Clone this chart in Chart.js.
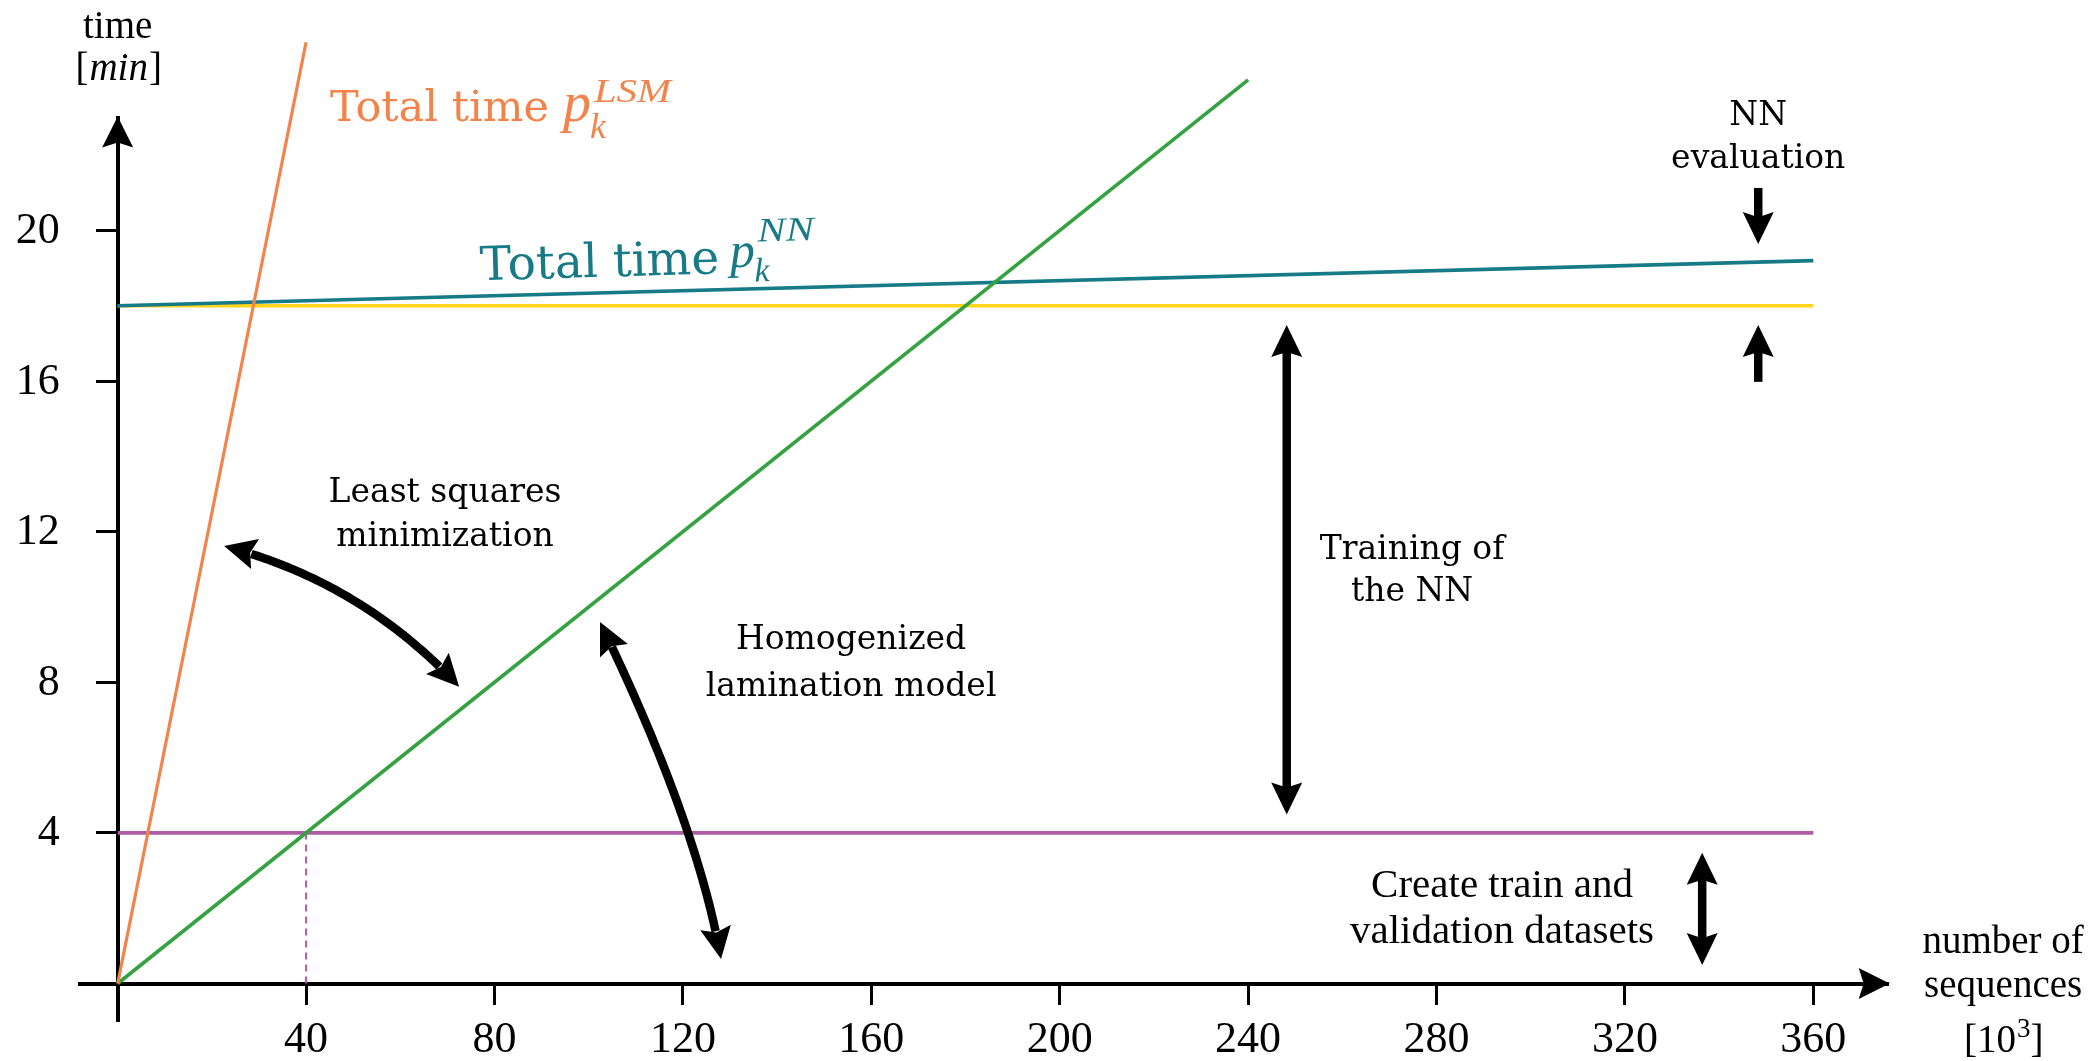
<!DOCTYPE html>
<html>
<head>
<meta charset="utf-8">
<script src="https://cdn.jsdelivr.net/npm/chart.js@4/dist/chart.umd.min.js"></script>
<style>
  html, body { margin: 0; padding: 0; background: #fff; }
  #wrap { width: 2094px; height: 1061px; }
</style>
</head>
<body>
<div id="wrap"><canvas id="c" width="2094" height="1061"></canvas></div>
<script>
// Computation time [min] against number of sequences [10^3]
const xTicks = [40, 80, 120, 160, 200, 240, 280, 320, 360];
const yTicks = [4, 8, 12, 16, 20];

// Total time with least squares minimization, p_k^LSM
const lsmX = [0, 40];
const lsmY = [0, 25];
// Homogenized lamination model
const homX = [0, 240];
const homY = [0, 24];
// Total time with the neural network, p_k^NN
const nnX = [0, 360];
const nnY = [18, 19.2];
// Dataset creation + training of the NN
const trainX = [0, 360];
const trainY = [18, 18];
// Create train and validation datasets
const dataX = [0, 360];
const dataY = [4, 4];
// Break-even marker between dataset creation and the lamination model
const markX = [40, 40];
const markY = [0, 4];

const pts = (xs, ys) => xs.map((v, i) => ({ x: v, y: ys[i] }));

const C_LSM = '#F2844B';
const C_HOM = '#35A242';
const C_NN = '#167B86';
const C_TRAIN = '#FDD31C';
const C_DATA = '#AE5CA6';

const SLAB = '"DejaVu Serif"';
const ROMAN = '"Liberation Serif"';

// annotation geometry in data units (x: 10^3 sequences, y: minutes)
const arrowsStraight = [
  { x0: 248.2, y0: 17.49, x1: 248.2, y1: 4.49, heads: [true, true] },
  { x0: 336.4, y0: 3.47, x1: 336.4, y1: 0.49, heads: [true, true] },
  { x0: 348.3, y0: 21.13, x1: 348.3, y1: 19.64, heads: [false, true] },
  { x0: 348.3, y0: 15.98, x1: 348.3, y1: 17.49, heads: [false, true] }
];
const arrowsCurved = [
  { p0: [22.6, 11.62], c: [51.9, 10.66], p2: [72.5, 7.88] },
  { p0: [102.4, 9.60], c: [123.1, 4.25], p2: [128.1, 0.65] }
];
const notes = [
  { lines: ['Least squares', 'minimization'], x: 69.5, y: [13.02, 11.86], font: SLAB, size: 33 },
  { lines: ['Training of', 'the NN'], x: 274.8, y: [11.51, 10.40], font: SLAB, size: 33 },
  { lines: ['Homogenized', 'lamination model'], x: 155.7, y: [9.10, 7.87], font: SLAB, size: 33 },
  { lines: ['NN', 'evaluation'], x: 348.3, y: [23.03, 21.88], font: SLAB, size: 33 },
  { lines: ['Create train and', 'validation datasets'], x: 293.9, y: [2.58, 1.37], font: ROMAN, size: 41 }
];

function arrowHead(ctx, tx, ty, ang, len, wid) {
  ctx.save();
  ctx.translate(tx, ty);
  ctx.rotate(ang);
  ctx.beginPath();
  ctx.moveTo(0, 0);
  ctx.lineTo(-len, -wid / 2);
  ctx.lineTo(-len * 0.84, 0);
  ctx.lineTo(-len, wid / 2);
  ctx.closePath();
  ctx.fill();
  ctx.restore();
}

function qPoint(p0, c, p2, t) {
  const u = 1 - t;
  return [u * u * p0[0] + 2 * u * t * c[0] + t * t * p2[0],
          u * u * p0[1] + 2 * u * t * c[1] + t * t * p2[1]];
}

const overlay = {
  id: 'overlay',
  afterDraw(chart) {
    const { ctx, scales: { x, y }, chartArea } = chart;
    const X = v => x.getPixelForValue(v);
    const Y = v => y.getPixelForValue(v);
    ctx.save();
    ctx.fillStyle = '#000';
    ctx.strokeStyle = '#000';

    // axis arrow tips
    arrowHead(ctx, chartArea.right + 1, Y(0), 0, 31, 31);
    arrowHead(ctx, X(0), chartArea.top - 1, -Math.PI / 2, 31, 31);

    // y tick labels, right-aligned left of the tick marks
    ctx.font = `44px ${ROMAN}`;
    ctx.textAlign = 'right';
    ctx.textBaseline = 'middle';
    y.ticks.forEach(t => ctx.fillText(String(t.value), X(0) - 58, y.getPixelForValue(t.value) + 1));

    // straight arrows
    const HL = 32, HW = 31, SW = 8.5;
    arrowsStraight.forEach(a => {
      const ax = X(a.x0), ay = Y(a.y0), bx = X(a.x1), by = Y(a.y1);
      const ang = Math.atan2(by - ay, bx - ax);
      const dx = Math.cos(ang), dy = Math.sin(ang);
      const s0 = a.heads[0] ? HL * 0.8 : 0;
      const s1 = a.heads[1] ? HL * 0.8 : 0;
      ctx.lineWidth = SW;
      ctx.lineCap = 'butt';
      ctx.beginPath();
      ctx.moveTo(ax + dx * s0, ay + dy * s0);
      ctx.lineTo(bx - dx * s1, by - dy * s1);
      ctx.stroke();
      if (a.heads[0]) arrowHead(ctx, ax, ay, ang + Math.PI, HL, HW);
      if (a.heads[1]) arrowHead(ctx, bx, by, ang, HL, HW);
    });

    // curved double arrows
    arrowsCurved.forEach(a => {
      const p0 = [X(a.p0[0]), Y(a.p0[1])];
      const c = [X(a.c[0]), Y(a.c[1])];
      const p2 = [X(a.p2[0]), Y(a.p2[1])];
      const N = 80;
      const samples = [];
      for (let i = 0; i <= N; i++) samples.push(qPoint(p0, c, p2, i / N));
      let total = 0;
      const acc = [0];
      for (let i = 1; i <= N; i++) {
        total += Math.hypot(samples[i][0] - samples[i - 1][0], samples[i][1] - samples[i - 1][1]);
        acc.push(total);
      }
      const trim = HL * 0.8;
      ctx.lineWidth = SW;
      ctx.beginPath();
      let started = false;
      for (let i = 0; i <= N; i++) {
        if (acc[i] < trim || acc[i] > total - trim) continue;
        if (!started) { ctx.moveTo(samples[i][0], samples[i][1]); started = true; }
        else ctx.lineTo(samples[i][0], samples[i][1]);
      }
      ctx.stroke();
      arrowHead(ctx, p0[0], p0[1], Math.atan2(p0[1] - c[1], p0[0] - c[0]), HL, HW);
      arrowHead(ctx, p2[0], p2[1], Math.atan2(p2[1] - c[1], p2[0] - c[0]), HL, HW);
    });

    // annotation texts
    ctx.textAlign = 'center';
    ctx.textBaseline = 'middle';
    notes.forEach(n => {
      ctx.font = `${n.size}px ${n.font}`;
      n.lines.forEach((t, i) => ctx.fillText(t, X(n.x), Y(n.y[i])));
    });

    // axis titles
    ctx.font = `39px ${ROMAN}`;
    ctx.fillText('time', X(0), Y(25.38));
    ctx.fillText('number of', X(400.3), Y(1.08));
    ctx.fillText('sequences', X(400.3), Y(-0.09));
    // [min]
    (function () {
      const cx = X(0), cy = Y(24.26);
      ctx.font = `39px ${ROMAN}`;
      const wb = ctx.measureText('[').width;
      ctx.font = `italic 39px ${ROMAN}`;
      const wm = ctx.measureText('min').width;
      const left = cx - (wb * 2 + wm) / 2;
      ctx.textAlign = 'left';
      ctx.font = `39px ${ROMAN}`;
      ctx.fillText('[', left, cy);
      ctx.fillText(']', left + wb + wm + 2, cy);
      ctx.font = `italic 39px ${ROMAN}`;
      ctx.fillText('min', left + wb + 1, cy);
    })();
    // [10^3]
    (function () {
      const cx = X(400.3), cy = Y(-1.55);
      ctx.font = `39px ${ROMAN}`;
      const w1 = ctx.measureText('[10').width;
      ctx.font = `27px ${ROMAN}`;
      const w2 = ctx.measureText('3').width;
      ctx.font = `39px ${ROMAN}`;
      const w3 = ctx.measureText(']').width;
      const left = cx - (w1 + w2 + w3) / 2;
      ctx.textAlign = 'left';
      ctx.fillText('[10', left, cy);
      ctx.fillText(']', left + w1 + w2 + 1, cy);
      ctx.font = `27px ${ROMAN}`;
      ctx.fillText('3', left + w1 + 1, cy - 12);
    })();

    // curve labels: "Total time p_k^{...}"
    function totalLabel(o) {
      ctx.save();
      ctx.translate(X(o.x), Y(o.y));
      ctx.rotate(o.ang);
      ctx.fillStyle = o.color;
      ctx.textAlign = 'left';
      ctx.textBaseline = 'alphabetic';
      ctx.font = `${o.size}px ${SLAB}`;
      ctx.fillText('Total time', 0, 0);
      let w = ctx.measureText('Total time').width + o.gap;
      ctx.font = `italic ${o.pSize}px ${ROMAN}`;
      ctx.fillText('p', w, o.pLift);
      w += ctx.measureText('p').width;
      ctx.font = `italic ${o.kSize}px ${ROMAN}`;
      ctx.fillText('k', w - 1, o.pLift + o.subDrop);
      ctx.save();
      ctx.translate(w + 3, o.pLift - o.supRise);
      ctx.scale(o.supStretch, 1);
      ctx.font = `italic ${o.supSize}px ${ROMAN}`;
      ctx.fillText(o.sup, 0, 0);
      ctx.restore();
      ctx.restore();
    }
    totalLabel({ x: 45.1, y: 22.91, ang: 0, color: C_LSM, size: 43, gap: 14, pSize: 56, pLift: 0,
      kSize: 36, subDrop: 17, sup: 'LSM', supSize: 34, supStretch: 1.2, supRise: 19 });
    totalLabel({ x: 77.0, y: 18.68, ang: -0.028, color: C_NN, size: 47, gap: 11, pSize: 50, pLift: -6,
      kSize: 34, subDrop: 15, sup: 'NN', supSize: 34, supStretch: 1.25, supRise: 25 });

    ctx.restore();
  }
};

const noPad = s => { s.paddingTop = 0; s.paddingBottom = 0; s.paddingLeft = 0; s.paddingRight = 0; };

new Chart(document.getElementById('c'), {
  type: 'line',
  data: {
    datasets: [
      { data: pts(lsmX, lsmY), borderColor: C_LSM, borderWidth: 3.2 },
      { data: pts(homX, homY), borderColor: C_HOM, borderWidth: 3.6 },
      { data: pts(nnX, nnY), borderColor: C_NN, borderWidth: 3.6 },
      { data: pts(trainX, trainY), borderColor: C_TRAIN, borderWidth: 3.6 },
      { data: pts(markX, markY), borderColor: C_DATA, borderWidth: 2, borderDash: [7, 5] },
      { data: pts(dataX, dataY), borderColor: C_DATA, borderWidth: 3.6 }
    ].map(d => Object.assign(d, { pointRadius: 0, fill: false, tension: 0, clip: false }))
  },
  options: {
    responsive: false,
    devicePixelRatio: 1,
    animation: false,
    events: [],
    layout: { padding: { left: 80, right: 205.3, top: 117.55, bottom: 39.85 } },
    plugins: { legend: { display: false }, tooltip: { enabled: false } },
    scales: {
      x: {
        type: 'linear',
        min: -8,
        max: 376,
        position: { y: 0 },
        border: { display: true, color: '#000', width: 4 },
        grid: { display: true, drawOnChartArea: false, drawTicks: true, tickLength: 19, tickWidth: 3, tickColor: '#000' },
        ticks: { color: '#000', font: { family: 'Liberation Serif', size: 44 }, padding: 12, maxRotation: 0 },
        afterBuildTicks: s => { s.ticks = xTicks.map(v => ({ value: v })); },
        afterFit: noPad
      },
      y: {
        type: 'linear',
        min: -1,
        max: 23,
        position: { x: 0 },
        border: { display: true, color: '#000', width: 4 },
        grid: { display: true, drawOnChartArea: false, drawTicks: true, tickLength: 20, tickWidth: 3, tickColor: '#000' },
        ticks: { display: false },
        afterBuildTicks: s => { s.ticks = yTicks.map(v => ({ value: v })); },
        afterFit: noPad
      }
    }
  },
  plugins: [overlay]
});
</script>
</body>
</html>
